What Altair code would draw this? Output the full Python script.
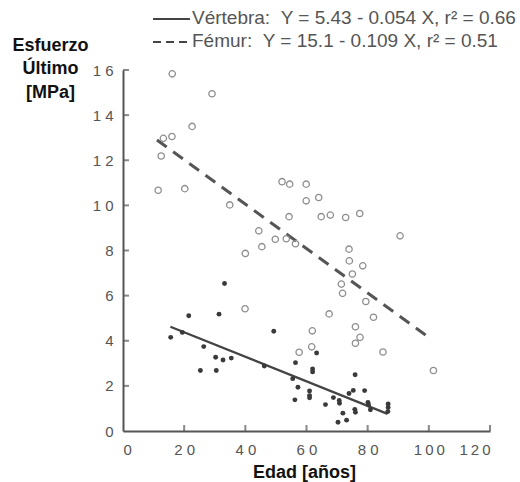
import altair as alt
import pandas as pd

# ---- data ----
femur_age = [11.5, 12.5, 13.2, 16.0, 16.1, 20.2, 22.6, 29.1, 34.9, 40.0, 39.9, 44.4,
             45.4, 49.8, 52.0, 53.4, 54.3, 54.5, 56.4, 57.6, 59.9, 59.9, 61.7, 61.9,
             64.0, 64.8, 67.4, 67.8, 71.4, 71.8, 72.8, 73.9, 74.0, 75.0, 76.0, 76.0,
             77.4, 77.5, 78.4, 79.4, 81.9, 85.0, 90.6, 101.5]
femur_stress = [10.67, 12.19, 12.97, 13.05, 15.83, 10.74, 13.5, 14.95, 10.02, 7.87, 5.42, 8.87,
                8.17, 8.5, 11.05, 8.52, 9.5, 10.94, 8.3, 3.49, 10.94, 10.2, 3.73, 4.44,
                10.35, 9.5, 5.19, 9.57, 6.51, 6.1, 9.46, 8.06, 7.54, 6.96, 4.62, 3.89,
                9.64, 4.15, 7.32, 5.74, 5.04, 3.5, 8.65, 2.68]

vert_age = [15.6, 19.4, 21.5, 25.3, 26.4, 30.3, 30.5, 31.4, 32.7, 33.2, 35.4, 46.2,
            49.3, 55.5, 56.2, 56.4, 57.2, 61.0, 61.0, 61.0, 62.0, 62.0, 63.3, 66.2,
            68.8, 70.7, 70.8, 70.3, 71.9, 73.1, 73.9, 75.3, 75.9, 75.8, 76.0, 79.0,
            80.1, 80.3, 80.9, 86.7, 86.7, 86.6]
vert_stress = [4.15, 4.37, 5.11, 2.68, 3.74, 3.27, 2.68, 5.18, 3.15, 6.54, 3.23, 2.88,
               4.42, 2.32, 1.38, 3.03, 1.94, 1.77, 1.57, 1.47, 2.75, 2.62, 3.46, 1.17,
               1.48, 1.35, 1.23, 0.39, 0.79, 0.48, 1.66, 1.80, 2.49, 0.96, 0.83, 1.79,
               1.27, 1.15, 0.94, 1.20, 1.04, 0.86]

# regression lines (end points as drawn)
vert_fit_x = [15.5, 86.5]
vert_fit_y = [4.62, 0.76]
femur_fit_x = [11.1, 100.0]
femur_fit_y = [12.9, 4.15]

NB = "\u00a0"
legend_labels = ["Vértebra:" + NB + NB + "Y = 5.43 - 0.054 X, r² = 0.66",
                 "Fémur:" + NB + NB + "Y = 15.1 - 0.109 X, r² = 0.51"]

x_ticks = [0, 20, 40, 60, 80, 100, 120]
y_ticks = [0, 2, 4, 6, 8, 10, 12, 14, 16]

# ---- styling ----
FONT = "Liberation Sans"
AXIS_COL = "#555555"
W, H = 367, 361

xs = alt.Scale(domain=[0, 120], nice=False, zero=False)
ys = alt.Scale(domain=[0, 16], nice=False, zero=False)

spaced = ("length(datum.label) == 2 ? join(split(datum.label, ''), ' ') : "
          "(length(datum.label) == 3 ? join(split(datum.label, ''), '\u2009') : datum.label)")

x_axis = alt.Axis(values=x_ticks, ticks=False, grid=False, labelExpr=spaced,
                  labelFont=FONT, labelFontSize=15, labelColor=AXIS_COL, labelPadding=11,
                  domainColor=AXIS_COL, domainWidth=2,
                  title="Edad [años]", titleFont=FONT, titleFontSize=18,
                  titleFontWeight="bold", titleColor="#111111",
                  titleBaseline="alphabetic", titleY=46, titleX=181)
y_axis = alt.Axis(values=y_ticks, ticks=False, grid=False, labelExpr=spaced,
                  labelFont=FONT, labelFontSize=15, labelColor=AXIS_COL, labelPadding=10,
                  domainColor=AXIS_COL, domainWidth=2,
                  title=["Esfuerzo", "Último", "[MPa]"], titleFont=FONT, titleFontSize=18,
                  titleFontWeight="bold", titleColor="#111111", titleAngle=0,
                  titleAlign="center", titleBaseline="alphabetic", titleLineHeight=23.5,
                  titleX=-73, titleY=-20)


def X(field):
    return alt.X(field, type="quantitative", scale=xs, axis=x_axis)


def Y(field):
    return alt.Y(field, type="quantitative", scale=ys, axis=y_axis)


femur_df = pd.DataFrame({"edad": femur_age, "esfuerzo": femur_stress})
vert_df = pd.DataFrame({"edad": vert_age, "esfuerzo": vert_stress})
vfit_df = pd.DataFrame({"edad": vert_fit_x, "esfuerzo": vert_fit_y})
ffit_df = pd.DataFrame({"edad": femur_fit_x, "esfuerzo": femur_fit_y})

femur_pts = alt.Chart(femur_df).mark_point(
    shape="circle", filled=False, size=40, strokeWidth=1.3, color="#8e8e8e", opacity=1
).encode(x=X("edad"), y=Y("esfuerzo"))

vert_pts = alt.Chart(vert_df).mark_circle(
    size=24, color="#3a3a3a", opacity=1
).encode(x=X("edad"), y=Y("esfuerzo"))

vert_line = alt.Chart(vfit_df).mark_line(
    color="#444444", strokeWidth=2.3
).encode(x=X("edad"), y=Y("esfuerzo"))

femur_line = alt.Chart(ffit_df).mark_line(
    color="#555555", strokeWidth=3, strokeDash=[12, 8]
).encode(x=X("edad"), y=Y("esfuerzo"))

# inward axis ticks
xt = alt.Chart(pd.DataFrame({"v": x_ticks[1:]})).mark_tick(
    thickness=2, size=6, color=AXIS_COL
).encode(x=X("v"), y=alt.value(H - 3))
yt = alt.Chart(pd.DataFrame({"v": y_ticks[1:]})).mark_tick(
    thickness=2, size=6, color=AXIS_COL, orient="horizontal"
).encode(y=Y("v"), x=alt.value(3))

# legend (top)
leg_layers = []
leg_rows = [(-51, -46), (-28, -23)]
dashes = [[1, 0], [8, 5]]
for i, lab in enumerate(legend_labels):
    ly, ty = leg_rows[i]
    d = pd.DataFrame({"t": [lab]})
    leg_layers.append(
        alt.Chart(d).mark_rule(color="#444444", strokeWidth=2.2, strokeDash=dashes[i])
        .encode(x=alt.value(30), x2=alt.value(67), y=alt.value(ly))
    )
    leg_layers.append(
        alt.Chart(d).mark_text(font=FONT, fontSize=19, color="#555555",
                               align="left", baseline="alphabetic")
        .encode(text="t:N", x=alt.value(69), y=alt.value(ty))
    )

chart = alt.layer(
    femur_line, vert_line, femur_pts, vert_pts, xt, yt, *leg_layers
).properties(
    width=W, height=H,
    padding={"left": 123, "top": 70, "right": 30, "bottom": 51},
    autosize=alt.AutoSizeParams(type="none"),
    background="white"
).configure_view(stroke=None)

chart.save("out.html", embed_options={"renderer": "svg", "actions": False})
